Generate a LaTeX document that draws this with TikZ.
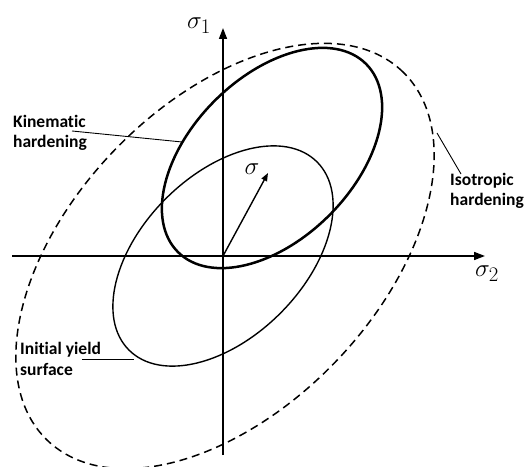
\documentclass[tikz,border=0pt]{standalone}
\usepackage{fontspec}
\newfontfamily\labelfont[Ligatures={NoCommon}]{Carlito}
\usetikzlibrary{arrows.meta}
\begin{document}
\begin{tikzpicture}[x=1pt,y=1pt,
  axis/.style={line width=1.6pt,-{Triangle[length=11pt,width=8pt]}},
  initial/.style={line width=1.4pt},
  kinematic/.style={line width=2.5pt},
  isotropic/.style={line width=1.5pt,dash pattern=on 8pt off 5pt},
  leader/.style={line width=0.9pt},
  lbl/.style={font=\labelfont\bfseries\fontsize{17.5}{20.5}\selectfont,align=left,inner sep=0pt,anchor=west},
  sym/.style={font=\fontsize{29}{32}\selectfont,inner sep=0pt}]
\useasboundingbox (0,0) rectangle (526,466);
% origin and centres
\coordinate (O) at (223,210);
\coordinate (K) at (272,308);
\coordinate (I) at (225,210);
% axes
\coordinate (xs) at (12,210);
\coordinate (xe) at (485,210);
\coordinate (ys) at (223,11);
\coordinate (ye) at (223,438);
\draw[axis] (xs) -- (xe);
\draw[axis] (ys) -- (ye);
% ellipses
\draw[initial, rotate around={45:(O)}] (O) ellipse [x radius=133pt, y radius=81pt];
\draw[kinematic, rotate around={45:(K)}] (K) ellipse [x radius=133pt, y radius=81pt];
\draw[isotropic, rotate around={46:(I)}] (I) ellipse [x radius=256pt, y radius=153pt];
% stress vector
\coordinate (S) at (268,293);
\draw[line width=1.4pt,-{Triangle[length=8pt,width=6pt]}] (O) -- (S);
% symbols
\node[sym] (s1) at (199,440) {$\sigma_1$};
\node[sym] (s2) at (487,192) {$\sigma_2$};
\node[sym] (s) at (252,297) {$\sigma$};
% labels
\node[lbl] (kl) at (13,333) {Kinematic\\hardening};
\node[lbl] (il) at (450,275) {Isotropic\\hardening};
\node[lbl] (yl) at (20,107) {Initial yield\\surface};
% leaders
\coordinate (kl0) at (72,335);
\coordinate (kl1) at (182,324);
\draw[leader] (kl0) -- (kl1);
\coordinate (il0) at (437,333);
\coordinate (il1) at (461,292);
\draw[leader] (il0) -- (il1);
\coordinate (yl0) at (82,107);
\coordinate (yl1) at (134,107);
\draw[leader] (yl0) -- (yl1);
\end{tikzpicture}
\end{document}
